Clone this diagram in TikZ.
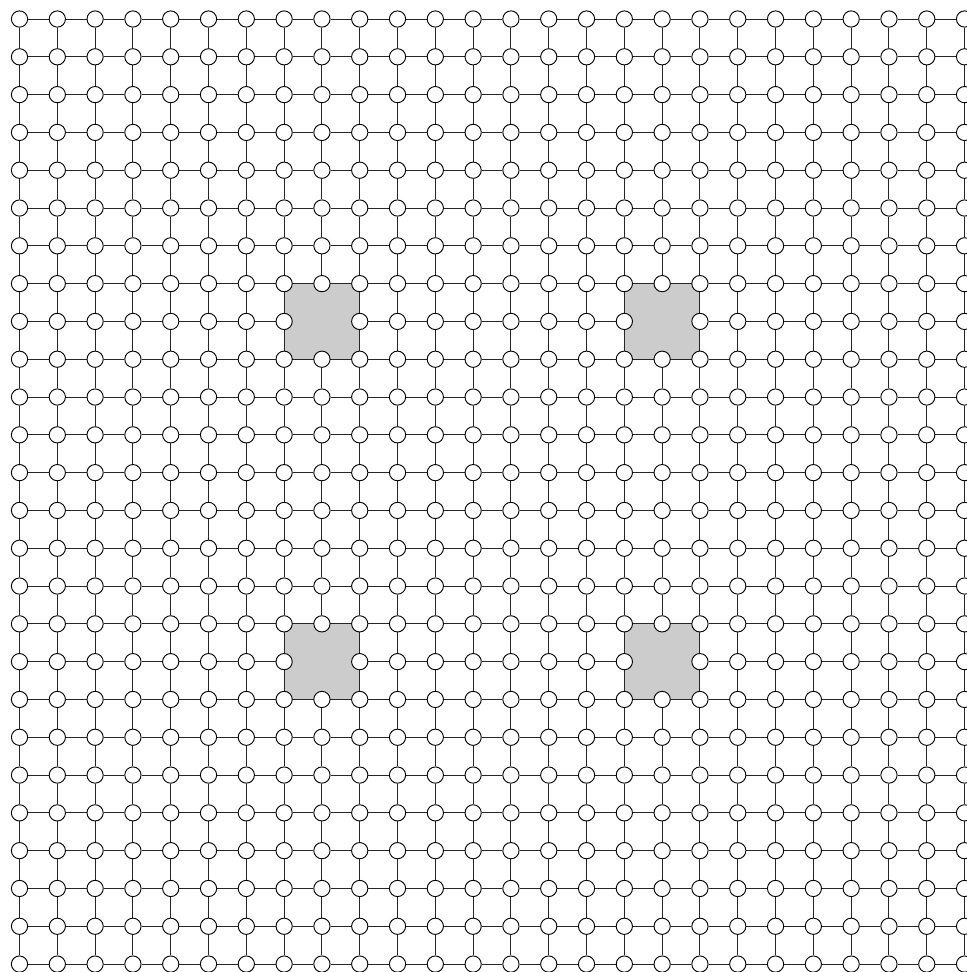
\documentclass[tikz,border=0pt]{standalone}
\usepackage{tikz}
\usetikzlibrary{backgrounds}

\begin{document}
\begin{tikzpicture}[
    site/.style={
        circle,
        draw=black,
        line width=0.7pt,
        fill=white,
        inner sep=0pt,
        minimum size=0.43cm
    },
    bond/.style={
        line width=0.7pt,
        draw=black!85
    },
    plaquette/.style={
        draw=black,
        line width=0.7pt,
        fill=black!20
    }
]
    \useasboundingbox (-0.516,0.503) rectangle (25.04,-25.21);

    % Lattice sites (the centre of each grey plaquette is left empty)
    \foreach \i in {0,...,25} {
        \foreach \j in {0,...,25} {
            \pgfmathtruncatemacro{\hole}{((\i==8)||(\i==17))&&((\j==8)||(\j==17))}
            \ifnum\hole=0
                \node[site] (n-\i-\j) at (\i,-\j) {};
            \fi
        }
    }

    \begin{pgfonlayer}{background}
        % Grey plaquettes
        \foreach \a/\b in {7/9, 16/18} {
            \foreach \c/\d in {7/9, 16/18} {
                \draw[plaquette] (n-\a-\c.center) rectangle (n-\b-\d.center);
            }
        }

        % Bonds
        \foreach \i in {0,...,24} {
            \foreach \j in {0,...,25} {
                \pgfmathtruncatemacro{\k}{\i+1}
                \pgfmathtruncatemacro{\skipH}{(((\i==8)||(\i==17)||(\k==8)||(\k==17))&&((\j==8)||(\j==17)))}
                \ifnum\skipH=0
                    \draw[bond] (n-\i-\j) -- (n-\k-\j);
                \fi
                \pgfmathtruncatemacro{\skipV}{(((\i==8)||(\i==17)||(\k==8)||(\k==17))&&((\j==8)||(\j==17)))}
                \ifnum\skipV=0
                    \draw[bond] (n-\j-\i) -- (n-\j-\k);
                \fi
            }
        }
    \end{pgfonlayer}

\end{tikzpicture}
\end{document}
